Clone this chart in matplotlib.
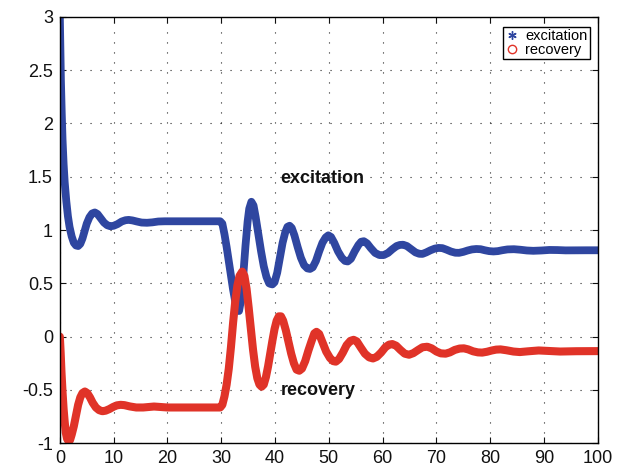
import matplotlib
matplotlib.use('Agg')
from matplotlib import pyplot as plt
from matplotlib.lines import Line2D

plt.rcParams['font.family'] = ['Liberation Sans', 'DejaVu Sans']

# Values (excitation / recovery vs time).

exc_t = [0.0, 0.1, 0.2, 0.35, 0.5, 0.7, 0.9, 1.2, 1.5, 1.8, 2.2, 2.6, 3.0,
         3.4, 3.8, 4.2, 4.6, 5.0, 5.5, 6.0, 6.5, 7.0, 7.6, 8.2, 8.8, 9.4,
         10.0, 10.7, 11.5, 12.2, 12.8, 13.5, 14.3, 15.2, 16.2, 17.2, 18.3,
         19.5, 22.0, 26.0, 29.8, 30.2, 30.6, 31.0, 31.6, 32.2, 32.7, 33.0,
         33.3, 33.7, 34.1, 34.5, 34.9, 35.2, 35.6, 36.0, 36.4, 36.9, 37.4,
         37.9, 38.4, 38.9, 39.1, 39.5, 39.9, 40.4, 40.9, 41.4, 41.9, 42.3,
         42.7, 43.1, 43.6, 44.2, 44.8, 45.4, 46.0, 46.5, 47.0, 47.6, 48.2,
         48.8, 49.4, 49.9, 50.4, 51.0, 51.7, 52.4, 53.0, 53.5, 54.1, 54.8,
         55.5, 56.0, 56.5, 57.1, 57.8, 58.6, 59.4, 60.2, 61.0, 61.8, 62.6,
         63.2, 63.8, 64.5, 65.3, 66.1, 66.8, 67.4, 68.1, 68.9, 69.7, 70.4,
         71.1, 71.9, 72.7, 73.5, 74.2, 75.0, 75.8, 76.6, 77.4, 78.2, 79.0,
         79.8, 80.6, 81.4, 82.2, 83.2, 84.4, 85.6, 86.8, 88.0, 89.5, 91.0,
         92.5, 94.0, 96.0, 98.0, 100.0]
exc_v = [3.0, 2.7, 2.4, 2.1, 1.85, 1.62, 1.45, 1.27, 1.13, 1.03, 0.94, 0.88,
         0.855, 0.85, 0.87, 0.92, 0.99, 1.06, 1.12, 1.155, 1.165, 1.15, 1.11,
         1.07, 1.045, 1.035, 1.04, 1.055, 1.08, 1.092, 1.095, 1.09, 1.08,
         1.07, 1.068, 1.072, 1.08, 1.082, 1.082, 1.082, 1.082, 1.06, 0.96,
         0.84, 0.64, 0.44, 0.3, 0.25, 0.24, 0.35, 0.58, 0.85, 1.08, 1.2,
         1.265, 1.23, 1.12, 0.96, 0.8, 0.66, 0.56, 0.5, 0.495, 0.49, 0.51,
         0.6, 0.74, 0.88, 0.98, 1.03, 1.04, 1.02, 0.95, 0.84, 0.74, 0.67,
         0.64, 0.635, 0.65, 0.71, 0.8, 0.88, 0.93, 0.95, 0.935, 0.88, 0.8,
         0.74, 0.71, 0.705, 0.73, 0.8, 0.86, 0.89, 0.895, 0.875, 0.83, 0.785,
         0.765, 0.765, 0.785, 0.82, 0.85, 0.86, 0.862, 0.85, 0.82, 0.79,
         0.777, 0.776, 0.79, 0.81, 0.826, 0.832, 0.83, 0.815, 0.798, 0.787,
         0.786, 0.795, 0.808, 0.818, 0.822, 0.82, 0.81, 0.802, 0.799, 0.802,
         0.81, 0.818, 0.82, 0.815, 0.808, 0.805, 0.808, 0.813, 0.812, 0.809,
         0.81, 0.81, 0.81]

rec_t = [0.0, 0.15, 0.3, 0.5, 0.7, 0.9, 1.1, 1.35, 1.6, 1.9, 2.2, 2.6, 3.0,
         3.4, 3.8, 4.2, 4.65, 5.1, 5.6, 6.1, 6.7, 7.3, 7.9, 8.5, 9.2, 9.9,
         10.6, 11.3, 12.0, 13.0, 14.2, 15.5, 16.6, 17.5, 18.5, 20.0, 25.0,
         29.8, 30.2, 30.6, 31.0, 31.4, 31.8, 32.2, 32.6, 33.0, 33.4, 33.9,
         34.3, 34.7, 35.1, 35.5, 35.9, 36.3, 36.7, 37.1, 37.5, 37.9, 38.3,
         38.7, 39.1, 39.5, 39.9, 40.3, 40.7, 41.1, 41.5, 42.0, 42.5, 43.0,
         43.5, 44.0, 44.5, 45.0, 45.6, 46.2, 46.8, 47.3, 47.7, 48.2, 48.8,
         49.5, 50.2, 50.8, 51.3, 51.9, 52.6, 53.3, 54.0, 54.6, 55.2, 55.9,
         56.7, 57.5, 58.2, 58.9, 59.7, 60.5, 61.2, 61.8, 62.5, 63.3, 64.1,
         64.9, 65.7, 66.6, 67.4, 68.3, 69.1, 70.0, 70.8, 71.7, 72.5, 73.4,
         74.3, 75.1, 75.9, 76.8, 77.7, 78.5, 79.4, 80.3, 81.1, 81.9, 83.0,
         84.3, 85.5, 87.0, 89.0, 91.0, 93.0, 96.0, 100.0]
rec_v = [0.0, -0.15, -0.33, -0.52, -0.68, -0.8, -0.9, -0.96, -0.98, -0.97,
         -0.92, -0.84, -0.74, -0.64, -0.57, -0.53, -0.515, -0.53, -0.57,
         -0.62, -0.665, -0.69, -0.7, -0.695, -0.68, -0.66, -0.645, -0.64,
         -0.643, -0.655, -0.665, -0.665, -0.66, -0.656, -0.66, -0.665,
         -0.665, -0.665, -0.64, -0.56, -0.45, -0.3, -0.1, 0.13, 0.33, 0.48,
         0.57, 0.61, 0.57, 0.45, 0.27, 0.07, -0.12, -0.28, -0.39, -0.45,
         -0.47, -0.45, -0.38, -0.28, -0.16, -0.04, 0.07, 0.15, 0.19, 0.19,
         0.15, 0.06, -0.05, -0.16, -0.25, -0.31, -0.32, -0.3, -0.23, -0.13,
         -0.04, 0.03, 0.045, 0.025, -0.05, -0.14, -0.2, -0.23, -0.235, -0.21,
         -0.15, -0.08, -0.04, -0.03, -0.045, -0.1, -0.16, -0.195, -0.205,
         -0.19, -0.15, -0.1, -0.075, -0.07, -0.085, -0.125, -0.16, -0.17,
         -0.155, -0.125, -0.1, -0.095, -0.11, -0.14, -0.157, -0.16, -0.148,
         -0.125, -0.112, -0.11, -0.12, -0.138, -0.148, -0.15, -0.142, -0.13,
         -0.122, -0.12, -0.128, -0.14, -0.145, -0.138, -0.13, -0.135, -0.14,
         -0.137, -0.136]

x_ticks = [0, 10, 20, 30, 40, 50, 60, 70, 80, 90, 100]
y_ticks = [-1, -0.5, 0, 0.5, 1, 1.5, 2, 2.5, 3]
y_labels = ['-1', '-0.5', '0', '0.5', '1', '1.5', '2', '2.5', '3']

blue = '#2f46a0'
red = '#e03328'
asterisk = (6, 2, 0)

fig = plt.figure(figsize=(6.17, 4.68), dpi=100)
ax = fig.add_axes([0.097, 0.053, 0.872, 0.911])

# thick bands, like the densely packed markers of the original
ax.plot(exc_t, exc_v, color=blue, lw=5.6,
        solid_capstyle='round', solid_joinstyle='round')
ax.plot(rec_t, rec_v, color=red, lw=5.8,
        solid_capstyle='round', solid_joinstyle='round')

ax.text(40.9, 1.48, 'excitation', fontsize=13, fontweight='bold',
        ha='left', va='center', color='#111111')
ax.text(41.0, -0.51, 'recovery', fontsize=13, fontweight='bold',
        ha='left', va='center', color='#111111')

ax.set_xlim(0, 100)
ax.set_ylim(-1, 3)
ax.set_xticks(x_ticks)
ax.set_yticks(y_ticks)
ax.set_yticklabels(y_labels)
ax.tick_params(direction='in', length=4, width=0.8, top=True, right=True,
               labelsize=13, pad=5, colors='#111111')
for s in ax.spines.values():
    s.set_linewidth(1.0)
ax.grid(True, color='k', lw=0.8, linestyle=(0, (1, 8)), alpha=0.85)

handles = [Line2D([], [], ls='none', marker=asterisk, color=blue, ms=6,
                  mew=1.0),
           Line2D([], [], ls='none', marker='o', color=red, mfc='none', ms=6)]
leg = ax.legend(handles, ['excitation', 'recovery'], loc='upper right',
                bbox_to_anchor=(0.985, 0.977), borderaxespad=0, fontsize=10.5,
                frameon=True, fancybox=False, framealpha=1, edgecolor='k',
                borderpad=0.15, labelspacing=0.0, handlelength=1.0,
                handletextpad=0.4)
leg.get_frame().set_linewidth(1.0)

fig.savefig('out.png', dpi=100)
